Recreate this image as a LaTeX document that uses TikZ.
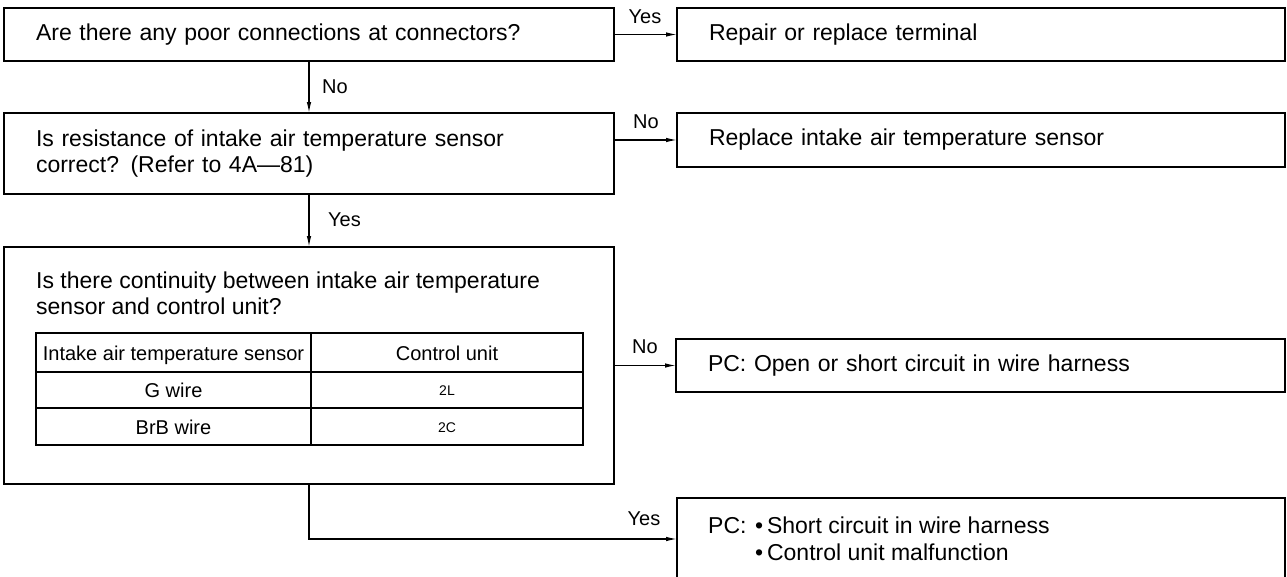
\documentclass[tikz,border=0pt]{standalone}
\usepackage{fontspec}
\setmainfont{Liberation Sans}
\usetikzlibrary{arrows.meta}
\begin{document}
\begin{tikzpicture}[x=1pt,y=-1pt,
  box/.style={draw, line width=1.3pt, inner sep=0pt, outer sep=0pt, inner xsep=32pt, align=left, font=\fontsize{23}{26}\selectfont},
  arr/.style={line width=1.2pt, -{Latex[length=11pt,width=4.5pt]}},
  lbl/.style={font=\fontsize{20}{22}\selectfont, inner sep=0pt},
  qtxt/.style={font=\fontsize{23}{26}\selectfont, inner sep=0pt, anchor=base west},
  tbltxt/.style={font=\fontsize{20}{22}\selectfont, inner sep=0pt, anchor=base},
  smalltxt/.style={font=\fontsize{14}{16}\selectfont, inner sep=0pt, anchor=base},
  tblline/.style={line width=1.2pt}]
\useasboundingbox (0,0) rectangle (1287,576);
\fill[white] (0,0) rectangle (1287,576);

% question and answer boxes
\node[box, minimum width=610pt, minimum height=53pt, text width=546pt] (q1) at (309,34.5) {Are there any poor connections at connectors?};
\node[box, minimum width=608pt, minimum height=53pt, text width=544pt] (a1) at (981,34.5) {Repair or replace terminal};
\node[box, minimum width=610pt, minimum height=81pt, text width=546pt] (q2) at (309,153.5) {Is resistance of intake air temperature sensor\\correct? (Refer to 4A—81)};
\node[box, minimum width=608pt, minimum height=54pt, text width=544pt] (a2) at (981,140) {Replace intake air temperature sensor};
\node[box, minimum width=610pt, minimum height=237pt] (q3) at (309,365.5) {};
\node[qtxt] (q3l1) at (36,288) {Is there continuity between intake air temperature};
\node[qtxt] (q3l2) at (36,314) {sensor and control unit?};
\node[box, minimum width=609pt, minimum height=53pt, text width=545pt] (pc1) at (980.5,365.5) {PC: Open or short circuit in wire harness};
\node[box, minimum width=608pt, minimum height=82pt] (pc2) at (981,539) {};
\node[qtxt] (pc2a) at (708,533) {PC:};
\node[qtxt] (pc2b) at (755,533) {•\,Short circuit in wire harness};
\node[qtxt] (pc2c) at (755,560) {•\,Control unit malfunction};

% table
\draw[tblline] (36,333) rectangle (583,445);
\draw[tblline] (36,372) -- (583,372);
\draw[tblline] (36,408) -- (583,408);
\draw[tblline] (311,333) -- (311,445);
\node[tbltxt] (t11) at (173.5,360) {Intake air temperature sensor};
\node[tbltxt] (t12) at (447,360) {Control unit};
\node[tbltxt] (t21) at (173.5,397) {G wire};
\node[smalltxt] (t22) at (447,395) {2L};
\node[tbltxt] (t31) at (173.5,434) {BrB wire};
\node[smalltxt] (t32) at (447,432) {2C};

% connectors
\draw[arr] (q1.east) -- (a1.west);
\draw[arr] (q1.south) -- (q2.north);
\draw[arr] (a2.west -| q2.east) -- (a2.west);
\draw[arr] (q2.south) -- (q3.north);
\draw[arr] (q3.east) -- (pc1.west);
\draw[arr] (q3.south) |- (pc2.west);

% labels
\node[lbl] (l1) at (645,17) {Yes};
\node[lbl, anchor=west] (l2) at (322,87) {No};
\node[lbl] (l3) at (646,122) {No};
\node[lbl, anchor=west] (l4) at (328,220) {Yes};
\node[lbl] (l5) at (645,347) {No};
\node[lbl] (l6) at (644,519) {Yes};
\end{tikzpicture}
\end{document}
